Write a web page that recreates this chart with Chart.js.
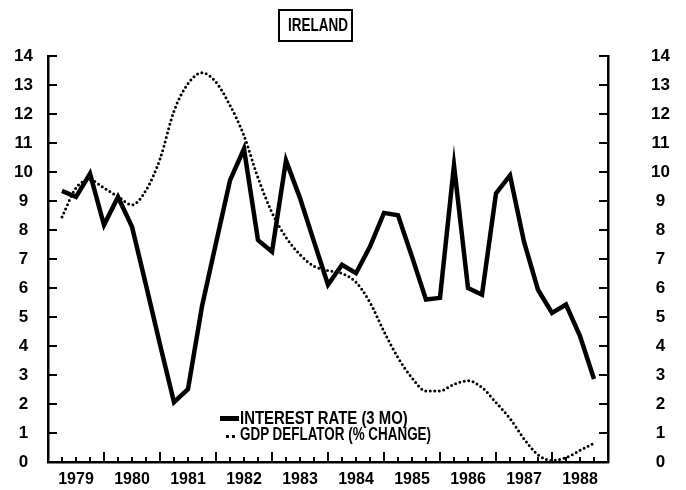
<!DOCTYPE html>
<html>
<head>
<meta charset="utf-8">
<script src="https://cdn.jsdelivr.net/npm/chart.js@4.4.1/dist/chart.umd.min.js"></script>
<style>
  html, body { margin: 0; padding: 0; background: #fff; }
  #wrap { position: relative; width: 686px; height: 490px; }
  canvas { position: absolute; left: 0; top: 0; }
  .txt {
    position: absolute;
    font-family: 'Liberation Sans', Arial, sans-serif;
    font-weight: bold;
    color: #000;
    white-space: nowrap;
    transform-origin: 0 0;
  }
  #titleBox { position: absolute; left: 278px; top: 9px; width: 71px; height: 29px; border: 2px solid #000; }
  #title { left: 288px; top: 15px; font-size: 18px; line-height: 20px; }
  .leg { font-size: 18px; line-height: 16px; left: 240px; }
  #solidKey { position: absolute; left: 220px; top: 416px; width: 19px; height: 4.5px; background: #000; }
  #dotKey { position: absolute; left: 226px; top: 435px; width: 9px; border-top: 3px dotted #000; }
</style>
</head>
<body>
<div id="wrap">
  <canvas id="chart" width="686" height="490"></canvas>
  <div id="titleBox"></div>
  <div id="title" class="txt" data-w="60">IRELAND</div>
  <div id="solidKey"></div>
  <div id="dotKey"></div>
  <div class="txt leg" style="top:410px" data-w="168">INTEREST RATE (3 MO)</div>
  <div class="txt leg" style="top:426px" data-w="191">GDP DEFLATOR (% CHANGE)</div>
</div>
<script>
// year labels, centred in each year of quarterly data
const years = ['1979', '1980', '1981', '1982', '1983', '1984', '1985', '1986', '1987', '1988'];

// quarterly values, one per quarter tick from 1979 Q1 end to 1988 Q3 end
const interestRate = [9.35, 9.14, 9.94, 8.17, 9.14, 8.11, 6.1, 4.05, 2.06, 2.51,
  5.37, 7.55, 9.71, 10.8, 7.65, 7.25, 10.4, 9.1, 7.6, 6.11,
  6.8, 6.51, 7.43, 8.59, 8.51, 7.08, 5.6, 5.66, 10.23, 6.0,
  5.77, 9.26, 9.88, 7.6, 5.94, 5.14, 5.43, 4.34, 2.86];

const gdpDeflator = [8.45, 9.45, 9.72, 9.45, 9.15, 8.87, 9.37, 10.45, 12.1, 13.05,
  13.42, 13.1, 12.3, 11.25, 9.8, 8.6, 7.75, 7.15, 6.75, 6.6,
  6.5, 6.2, 5.5, 4.5, 3.6, 2.9, 2.45, 2.45, 2.68, 2.8,
  2.57, 2.05, 1.5, 0.8, 0.25, 0.05, 0.15, 0.4, 0.65];

const yTicks = [0, 1, 2, 3, 4, 5, 6, 7, 8, 9, 10, 11, 12, 13, 14];

// squeeze html labels to the plotter's narrow lettering
document.querySelectorAll('.txt[data-w]').forEach(el => {
  el.style.transform = 'scaleX(' + (el.dataset.w / el.offsetWidth) + ')';
});

const fontFamily = "'Liberation Sans', Arial, sans-serif";

const toPoints = arr => arr.map((v, i) => ({ x: i + 1, y: v }));

// ticks pointing into the plot
const innerTicks = {
  id: 'innerTicks',
  afterDatasetsDraw(chart) {
    const { ctx, chartArea: a, scales: { x, y } } = chart;
    ctx.save();
    ctx.strokeStyle = '#000';
    ctx.lineWidth = 2;
    ctx.beginPath();
    yTicks.slice(1).forEach(v => {
      const py = y.getPixelForValue(v);
      ctx.moveTo(a.left, py); ctx.lineTo(a.left + 9, py);
      ctx.moveTo(a.right, py); ctx.lineTo(a.right - 9, py);
    });
    for (let q = 1; q < years.length * 4; q++) {
      const px = x.getPixelForValue(q);
      const len = q % 4 === 0 ? 10 : 5;
      ctx.moveTo(px, a.bottom); ctx.lineTo(px, a.bottom - len);
    }
    ctx.stroke();
    ctx.restore();
  }
};

const yAxis = (position, width, padding) => ({
  type: 'linear',
  position: position,
  min: 0,
  max: 14,
  afterBuildTicks: scale => { scale.ticks = yTicks.map(v => ({ value: v })); },
  afterFit: scale => {
    scale.width = width;
    // big label padding must not eat into the plot height
    scale.paddingTop = 0;
    scale.paddingBottom = 0;
  },
  border: { display: true, color: '#000', width: 2.5 },
  grid: { drawOnChartArea: false, drawTicks: false },
  ticks: { color: '#000', font: { family: fontFamily, weight: 'bold', size: 17 }, padding: padding, crossAlign: 'center' }
});

new Chart(document.getElementById('chart'), {
  type: 'line',
  data: {
    datasets: [{
      label: 'INTEREST RATE (3 MO)',
      data: toPoints(interestRate),
      borderColor: '#000',
      borderWidth: 4.5,
      borderJoinStyle: 'miter',
      pointRadius: 0,
      tension: 0,
      clip: 4
    },
    {
      label: 'GDP DEFLATOR (% CHANGE)',
      data: toPoints(gdpDeflator),
      borderColor: '#000',
      borderWidth: 3,
      borderDash: [0, 4.5],
      borderCapStyle: 'round',
      pointRadius: 0,
      cubicInterpolationMode: 'monotone',
      clip: 4
    }]
  },
  options: {
    responsive: false,
    animation: false,
    layout: { padding: { top: 56, left: 0, right: 0, bottom: 0 } },
    plugins: {
      legend: { display: false },
      tooltip: { enabled: false }
    },
    scales: {
      x: {
        type: 'linear',
        min: 0,
        max: years.length * 4,
        afterBuildTicks: scale => { scale.ticks = years.map((_, k) => ({ value: k * 4 + 2 })); },
        afterFit: scale => { scale.height = 28; },
        border: { display: true, color: '#000', width: 2.5 },
        grid: { drawOnChartArea: false, drawTicks: false },
        ticks: {
          color: '#000',
          font: { family: fontFamily, weight: 'bold', size: 16 },
          padding: 8,
          maxRotation: 0,
          callback: value => years[(value - 2) / 4]
        }
      },
      y: yAxis('left', 48, 15),
      y2: yAxis('right', 78, 43)
    }
  },
  plugins: [innerTicks]
});
</script>
</body>
</html>
